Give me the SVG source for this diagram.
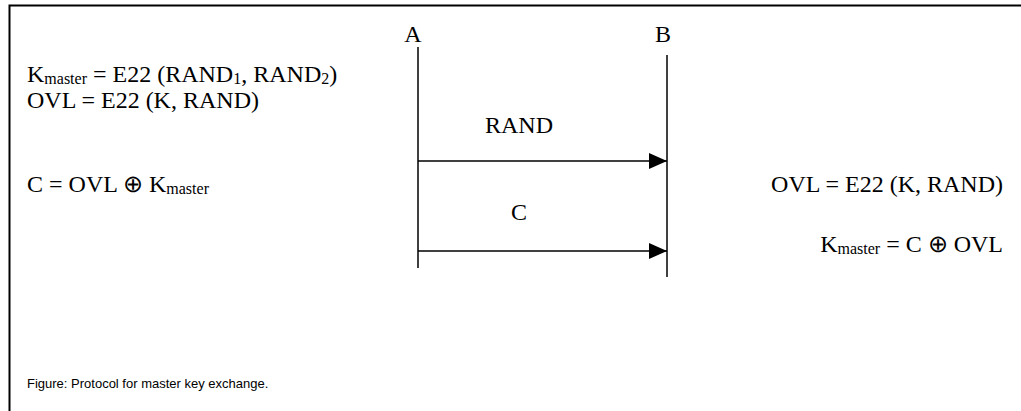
<svg xmlns="http://www.w3.org/2000/svg" width="1021" height="411" viewBox="0 0 1021 411">
<style>
.t{font-family:"Liberation Serif","Times New Roman",serif;font-size:24px;fill:#000}
.s{font-size:16px}
.cap{font-family:"Liberation Sans",Arial,sans-serif;font-size:13px;fill:#000}
.ln{stroke:#000;stroke-width:1.5;fill:none}
</style>
<defs>
<marker id="ah" markerWidth="19" markerHeight="16" refX="18" refY="8" orient="auto" markerUnits="userSpaceOnUse">
<path d="M0,0 L18,8 L0,16 Z" fill="#000"/>
</marker>
</defs>
<rect width="1021" height="411" fill="#fff"/>
<path d="M9.5,411 L9.5,5.5 L1021,5.5" stroke="#000" stroke-width="2" fill="none"/>
<g id="nodeA">
<line class="ln" x1="418" y1="47" x2="418" y2="268"/>
<text class="t" x="413" y="42" text-anchor="middle">A</text>
</g>
<g id="nodeB">
<line class="ln" x1="667" y1="55" x2="667" y2="277"/>
<text class="t" x="663" y="42" text-anchor="middle">B</text>
</g>
<g id="connectors">
<line class="ln" x1="418" y1="161" x2="667" y2="161" marker-end="url(#ah)"/>
<line class="ln" x1="418" y1="251" x2="667" y2="251" marker-end="url(#ah)"/>
<text class="t" x="519" y="133" text-anchor="middle">RAND</text>
<text class="t" x="519" y="220" text-anchor="middle">C</text>
</g>
<g id="leftText">
<text class="t" x="27" y="82">K<tspan class="s" dy="2">master</tspan><tspan dy="-2"> = E22 (RAND</tspan><tspan class="s" dy="2">1</tspan><tspan dy="-2">, RAND</tspan><tspan class="s" dy="2">2</tspan><tspan dy="-2">)</tspan></text>
<text class="t" x="27" y="108">OVL = E22 (K, RAND)</text>
<text class="t" x="27" y="192">C = OVL ⊕ K<tspan class="s" dy="2">master</tspan></text>
</g>
<g id="rightText">
<text class="t" x="1003" y="192" text-anchor="end">OVL = E22 (K, RAND)</text>
<text class="t" x="1003" y="252" text-anchor="end">K<tspan class="s" dy="2">master</tspan><tspan dy="-2"> = C ⊕ OVL</tspan></text>
</g>
<text class="cap" x="27" y="388">Figure: Protocol for master key exchange.</text>
</svg>
